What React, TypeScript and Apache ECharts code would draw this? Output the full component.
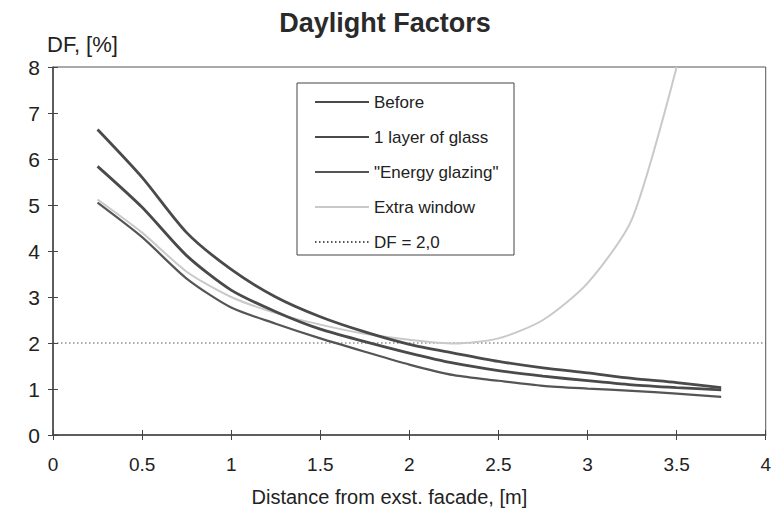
import React, { useEffect, useRef } from "react";
import * as echarts from "echarts";

const distances = [0.25, 0.5, 0.75, 1.0, 1.25, 1.5, 1.75, 2.0, 2.25, 2.5, 2.75, 3.0, 3.25, 3.5, 3.75];
const before = [6.64, 5.6, 4.4, 3.6, 3.0, 2.57, 2.24, 1.97, 1.78, 1.6, 1.46, 1.35, 1.23, 1.14, 1.03];
const oneLayer = [5.84, 4.95, 3.9, 3.15, 2.68, 2.3, 2.03, 1.78, 1.56, 1.4, 1.28, 1.18, 1.09, 1.03, 0.98];
const energyGlazing = [5.05, 4.3, 3.4, 2.77, 2.42, 2.1, 1.81, 1.53, 1.3, 1.18, 1.07, 1.01, 0.96, 0.9, 0.83];
const extraWindow = [5.12, 4.4, 3.55, 3.0, 2.65, 2.4, 2.2, 2.07, 1.99, 2.1, 2.5, 3.3, 4.7, 8.0];
const dfLimitX = [0, 4];
const dfLimitY = [2, 2];

const seriesNames = ["Before", "1 layer of glass", "\"Energy glazing\"", "Extra window", "DF = 2,0"];
const xTicks = [0, 0.5, 1, 1.5, 2, 2.5, 3, 3.5, 4];
const yTicks = [0, 1, 2, 3, 4, 5, 6, 7, 8];

const pairs = (xs: number[], ys: number[]) => ys.map((y, i) => [xs[i], y]);

export default function App() {
  const ref = useRef<HTMLDivElement>(null);
  useEffect(() => {
    if (!ref.current) return;
    const chart = echarts.init(ref.current, null, { renderer: "svg" });
    const font = "Liberation Sans, Arial, sans-serif";
    const dark = "#4a4a4a";
    const axisCommon = {
      min: 0,
      splitLine: { show: false },
    };
    const curve = (name: string, ys: number[], color: string, width: number, z: number) => ({
      name,
      type: "line",
      data: pairs(distances, ys),
      symbol: "none",
      smooth: 0.25,
      lineStyle: { color, width },
      itemStyle: { color },
      z,
    });
    chart.setOption({
      animation: false,
      backgroundColor: "#ffffff",
      textStyle: { fontFamily: font },
      title: {
        text: "Daylight Factors",
        left: 380,
        top: 4,
        textAlign: "center",
        textStyle: { fontSize: 27, fontWeight: "bold", color: "#2a2a2a", fontFamily: font },
      },
      grid: {
        left: 53,
        right: 5,
        top: 67,
        bottom: 75,
        show: true,
        borderColor: "#555",
        borderWidth: 1,
        backgroundColor: "transparent",
      },
      legend: {
        orient: "vertical",
        left: 314,
        top: 93,
        padding: 0,
        itemWidth: 54,
        itemHeight: 14,
        itemGap: 17,
        itemStyle: { opacity: 0 },
        textStyle: { fontSize: 17, color: "#222", lineHeight: 18, fontFamily: font },
        data: seriesNames,
        selectedMode: false,
      },
      xAxis: [
        {
          ...axisCommon,
          type: "value",
          max: 4,
          interval: 0.5,
          axisLine: { show: true, lineStyle: { color: "#444", width: 1.5 } },
          axisTick: { show: true, inside: false, length: 5, lineStyle: { color: "#444" } },
          axisLabel: {
            fontSize: 19,
            color: "#222",
            margin: 20,
            fontFamily: font,
            formatter: (v: number) => (xTicks.includes(v) ? String(v) : ""),
          },
          name: "Distance from exst. facade, [m]",
          nameLocation: "middle",
          nameGap: 52,
          nameTextStyle: { fontSize: 20, color: "#222", fontFamily: font, padding: [0, 40, 0, 0] },
        },
        {
          ...axisCommon,
          type: "value",
          max: 4,
          interval: 0.5,
          position: "bottom",
          axisLine: { show: false },
          axisTick: { show: true, inside: true, length: 5, lineStyle: { color: "#444" } },
          axisLabel: { show: false },
        },
      ],
      yAxis: [
        {
          ...axisCommon,
          type: "value",
          max: 8,
          interval: 1,
          axisLine: { show: true, lineStyle: { color: "#444", width: 1.5 } },
          axisTick: { show: true, inside: false, length: 5, lineStyle: { color: "#444" } },
          axisLabel: {
            fontSize: 21,
            color: "#222",
            margin: 13,
            fontFamily: font,
            formatter: (v: number) => (yTicks.includes(v) ? String(v) : ""),
          },
        },
        {
          ...axisCommon,
          type: "value",
          max: 8,
          interval: 1,
          position: "left",
          axisLine: { show: false },
          axisTick: { show: true, inside: true, length: 5, lineStyle: { color: "#444" } },
          axisLabel: { show: false },
        },
      ],
      graphic: [
        {
          type: "text",
          left: 47,
          top: 33,
          style: { text: "DF, [%]", fontSize: 22, fill: "#222", fontFamily: font },
        },
        {
          type: "rect",
          shape: { x: 297, y: 83, width: 217, height: 172 },
          style: { fill: "#ffffff", stroke: "#444", lineWidth: 1 },
          z: 1,
        },
      ],
      series: [
        curve(seriesNames[3], extraWindow, "#c9c9c9", 2, 3),
        curve(seriesNames[0], before, dark, 2.8, 4),
        curve(seriesNames[1], oneLayer, dark, 2.8, 4),
        curve(seriesNames[2], energyGlazing, "#555", 2.2, 4),
        {
          name: seriesNames[4],
          type: "line",
          data: pairs(dfLimitX, dfLimitY),
          symbol: "none",
          lineStyle: { color: "#555", width: 1, type: [1.5, 2.5] },
          itemStyle: { color: "#555" },
          z: 2,
        },
      ],
    });
    return () => chart.dispose();
  }, []);
  return (
    <div
      ref={ref}
      style={{ position: "fixed", left: 0, top: 0, width: 774, height: 512 }}
    />
  );
}
